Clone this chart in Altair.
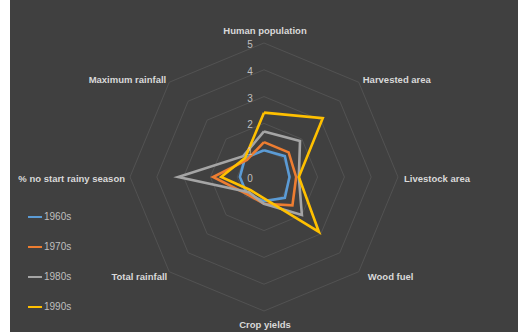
import altair as alt
import pandas as pd

categories = ["Human population", "Harvested area", "Livestock area", "Wood fuel",
              "Crop yields", "Total rainfall", "% no start rainy season", "Maximum rainfall"]
decades = ["1960s", "1970s", "1980s", "1990s"]
v1960s = [1.0, 1.1, 0.95, 1.1, 0.9, 0.9, 0.9, 1.0]
v1970s = [1.3, 1.3, 1.2, 1.5, 1.0, 0.9, 1.9, 0.9]
v1980s = [1.7, 1.9, 1.3, 2.0, 1.0, 0.8, 3.2, 1.1]
v1990s = [2.4, 3.1, 1.3, 2.9, 0.8, 0.7, 1.6, 1.0]
tick_values = [0, 1, 2, 3, 4, 5]
colors = ["#5B9BD5", "#ED7D31", "#A5A5A5", "#FFC000"]

n = len(categories)
series = {"1960s": v1960s, "1970s": v1970s, "1980s": v1980s, "1990s": v1990s}

rows = []
for d in decades:
    vals = series[d]
    for i in range(n + 1):
        rows.append({"decade": d, "idx": i, "value": vals[i % n]})
series_df = pd.DataFrame(rows)

grid_rows = []
for r in tick_values[1:]:
    for i in range(n + 1):
        grid_rows.append({"ring": r, "idx": i, "value": r})
grid_df = pd.DataFrame(grid_rows)

tick_df = pd.DataFrame({"value": tick_values, "label": [str(t) for t in tick_values]})

XD = [-9.478, 9.478]
YD = [-5.784, 6.604]
xs = alt.Scale(domain=XD, nice=False, zero=False)
ys = alt.Scale(domain=YD, nice=False, zero=False)

def polar(ch):
    return ch.transform_calculate(
        ang="datum.idx * 2 * PI / %d" % n
    ).transform_calculate(
        px="datum.value * sin(datum.ang)",
        py="datum.value * cos(datum.ang)",
    )

W, H = 508, 332

grid = polar(alt.Chart(grid_df)).mark_line(color="#575757", strokeWidth=0.8).encode(
    x=alt.X("px:Q", scale=xs, axis=None),
    y=alt.Y("py:Q", scale=ys, axis=None),
    detail="ring:N",
    order="idx:Q",
)

lines = polar(alt.Chart(series_df)).mark_line(strokeWidth=2.6).encode(
    x=alt.X("px:Q", scale=xs, axis=None),
    y=alt.Y("py:Q", scale=ys, axis=None),
    color=alt.Color("decade:N", scale=alt.Scale(domain=decades, range=colors),
                    sort=decades,
                    legend=alt.Legend(title=None, orient="none", legendX=17, legendY=209,
                                      symbolType="stroke", symbolSize=196,
                                      symbolStrokeWidth=2, labelColor="#bfbfbf",
                                      labelFontSize=10, labelFont="Liberation Sans",
                                      labelOffset=1, rowPadding=17)),
    order="idx:Q",
)

ticks = alt.Chart(tick_df).mark_text(color="#bfbfbf", fontSize=10, font="Liberation Sans",
                                     dx=-14, dy=2).transform_calculate(
    px="0", py="datum.value"
).encode(
    x=alt.X("px:Q", scale=xs, axis=None),
    y=alt.Y("py:Q", scale=ys, axis=None),
    text="label:N",
)

offsets = [("center", 1, -12), ("left", 4, -2), ("left", 6, 2), ("left", 9, 5),
           ("center", 1, 14), ("right", -2, 5), ("right", -5, 2), ("right", -3, -2)]

label_layers = []
for i, c in enumerate(categories):
    al, dx, dy = offsets[i]
    ldf = pd.DataFrame({"cat": [c], "idx": [i], "value": [5]})
    label_layers.append(
        polar(alt.Chart(ldf)).mark_text(color="#d9d9d9", fontSize=9.5, fontWeight="bold",
                                        font="Liberation Sans", align=al, dx=dx, dy=dy).encode(
            x=alt.X("px:Q", scale=xs, axis=None),
            y=alt.Y("py:Q", scale=ys, axis=None),
            text="cat:N",
        )
    )

chart = alt.layer(grid, lines, ticks, *label_layers).properties(
    width=W, height=H, background="white",
    padding={"left": 10, "top": 0, "right": 3, "bottom": 3},
    autosize=alt.AutoSizeParams(type="none"),
).configure_view(fill="#404040", stroke=None)

chart.save("out.html", embed_options={"renderer": "svg", "actions": False})
